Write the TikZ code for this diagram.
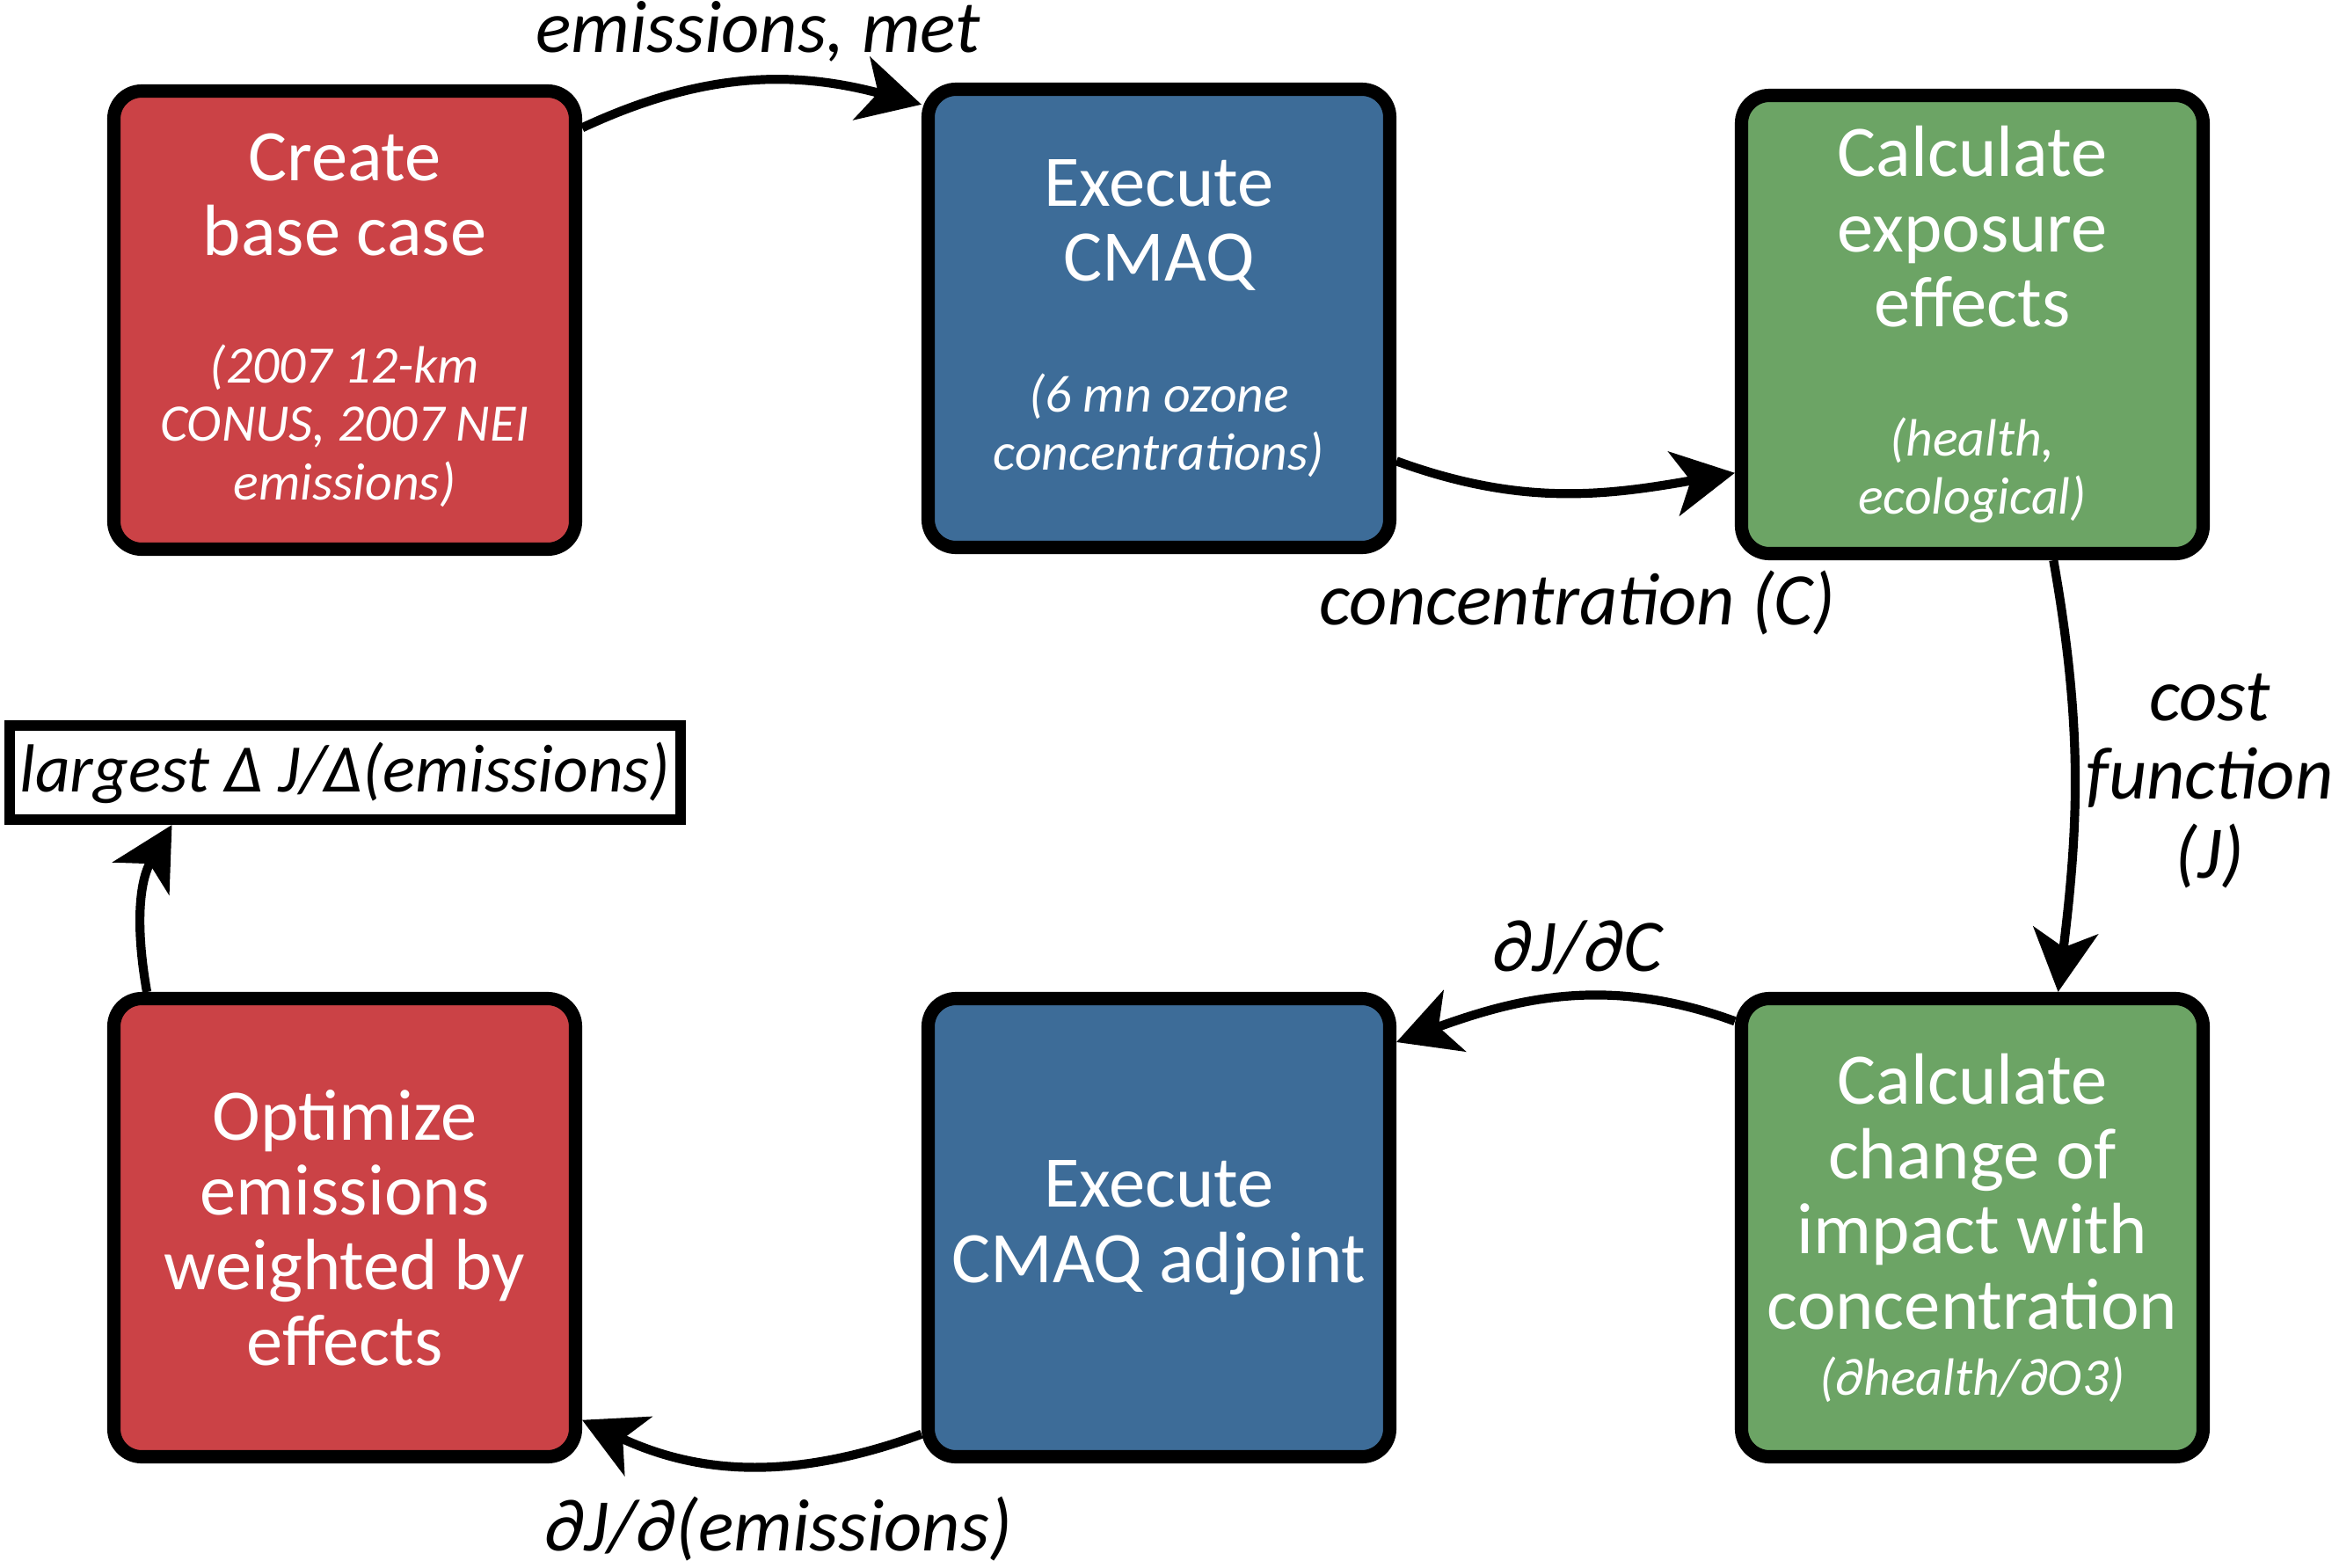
\documentclass[tikz,border=0pt]{standalone}
\usepackage{fontspec}
\setmainfont{Carlito}
\usetikzlibrary{arrows.meta, positioning}
\definecolor{cred}{HTML}{CB4246}
\definecolor{cblue}{HTML}{3D6C98}
\definecolor{cgreen}{HTML}{6CA465}
\newcommand{\subtxt}{\fontsize{17}{19}\selectfont\itshape}

\begin{document}
\begin{tikzpicture}
    \useasboundingbox (0,0) rectangle (26.6,-17.83);
    \begin{scope}[
        stepbox/.style={rectangle, draw=black, line width=4.3pt, rounded corners=9pt, minimum width=5.25cm, minimum height=5.21cm, inner sep=0pt, align=center, text=white, font=\fontsize{23.5}{24.3}\selectfont},
        outbox/.style={rectangle, draw=black, line width=3.4pt, fill=white, minimum width=7.63cm, minimum height=1.07cm, inner sep=0pt, font=\fontsize{22}{24.3}\selectfont\itshape},
        flowlabel/.style={font=\fontsize{24}{25.5}\selectfont\itshape, align=center},
        flow/.style={-{Stealth[length=20pt, width=21pt, inset=5.5pt]}, line width=2.9pt}
    ]
        % ================= TOP ROW: forward run =================
        \node[stepbox, fill=cred] (base) at (3.92, -3.64) {Create\\base case\\[17pt]{\subtxt (2007 12-km}\\[-5.5pt]{\subtxt CONUS, 2007 NEI}\\[-5.5pt]{\subtxt emissions)}};
        \node[stepbox, fill=cblue] (cmaq) at (13.18, -3.62) {Execute\\CMAQ\\[18pt]{\subtxt (6 mn ozone}\\[-5.5pt]{\subtxt concentrations)}};
        \node[stepbox, fill=cgreen] (expo) at (22.43, -3.69) {Calculate\\exposure\\effects\\[17.5pt]{\subtxt (health,}\\[-5.5pt]{\subtxt ecological)}};

        % ================= BOTTOM ROW: adjoint run =================
        \node[stepbox, fill=cgreen] (impact) at (22.43, -13.96) {Calculate\\change of\\impact with\\concentration\\[-3pt]{\subtxt (∂health/∂O3)}};
        \node[stepbox, fill=cblue] (adjoint) at (13.18, -13.96) {Execute\\CMAQ adjoint};
        \node[stepbox, fill=cred] (optim) at (3.92, -13.96) {Optimize\\emissions\\weighted by\\effects};

        \node[outbox] (result) at (3.925, -8.785) {largest Δ J/Δ(emissions)};

        % ================= CONNECTORS =================
        \draw[flow] (base.39) to[out=25, in=165] (cmaq.138);
        \draw[flow] (cmaq.-31) to[out=-20, in=190] (expo.212);
        \draw[flow] (expo.-71) to[out=-80, in=83] (impact.70);
        \draw[flow] (impact.139) to[out=160, in=20] (adjoint.38);
        \draw[flow] (adjoint.221) to[out=200, in=-25] (optim.-39);
        \draw[flow] (optim.130.6) to[out=100, in=-120] ([xshift=-1.97cm]result.south);

        % ================= LABELS =================
        \node[flowlabel] (lbl_met) at (8.62, -0.36) {emissions, met};
        \node[flowlabel] (lbl_conc) at (17.94, -6.85) {concentration (C)};
        \node[flowlabel] (lbl_cost) at (25.13, -8.88) {cost\\function\\(J)};
        \node[flowlabel] (lbl_djdc) at (17.94, -10.77) {∂J/∂C};
        \node[flowlabel] (lbl_djde) at (8.85, -17.38) {∂J/∂(emissions)};
    \end{scope}
\end{tikzpicture}
\end{document}
